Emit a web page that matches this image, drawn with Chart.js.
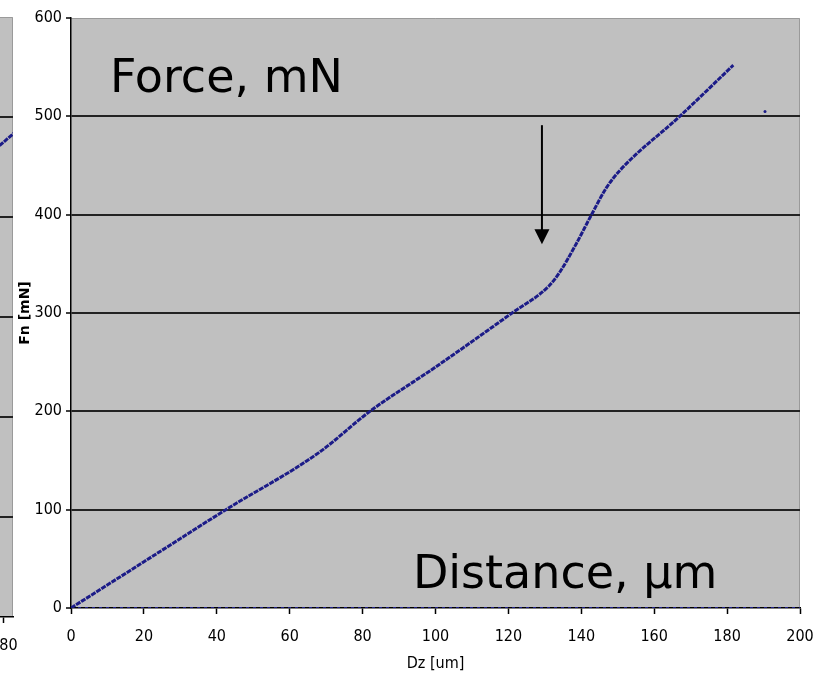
<!DOCTYPE html>
<html>
<head>
<meta charset="utf-8">
<script src="https://cdn.jsdelivr.net/npm/chart.js@4"></script>
<style>
  html, body { margin: 0; padding: 0; background: #fff; overflow: hidden; }
  #wrap { position: relative; width: 821px; height: 681px; }
  #leftChart { position: absolute; left: -600px; top: 0; }
  #mainChart { position: absolute; left: 0; top: 0; }
</style>
</head>
<body>
<div id="wrap">
  <canvas id="leftChart" width="640" height="681"></canvas>
  <canvas id="mainChart" width="821" height="681"></canvas>
</div>
<script>
// Force vs. distance curve
const dz = [0, 20, 42.5, 68, 82, 100, 121, 131, 134, 138.7, 142.8, 147, 150.6, 167, 181.7];
const fn = [0, 47, 100, 158, 200, 245, 300, 327, 341, 371, 400, 428, 445, 500, 552];

// dotted baseline along zero and the lone point at the right
const baseX = [0, 200];
const baseY = [0, 0];
const strayX = [190.4];
const strayY = [505];

// neighbouring chart, only its right edge shows
const leftX = [165, 175, 186];
const leftY = [436, 462, 491];

const yTicks = [0, 100, 200, 300, 400, 500, 600];
const xTicks = [0, 20, 40, 60, 80, 100, 120, 140, 160, 180, 200];

const navy = '#1c1c88';
const tickFont = { family: "'Liberation Sans Narrow', 'DejaVu Sans Condensed', Arial, sans-serif", size: 16 };

function pts(xs, ys) {
    return xs.map((x, i) => ({ x: x, y: ys[i] }));
}

// grey plot area
const plotBg = {
    id: 'plotBg',
    beforeDraw(chart) {
        const a = chart.chartArea;
        const ctx = chart.ctx;
        ctx.save();
        ctx.fillStyle = '#c0c0c0';
        ctx.fillRect(a.left, a.top, a.right - a.left, a.bottom - a.top);
        ctx.strokeStyle = '#9a9a9a';
        ctx.lineWidth = 1;
        ctx.beginPath();
        ctx.moveTo(a.left, a.top + 0.5);
        ctx.lineTo(a.right - 0.5, a.top + 0.5);
        ctx.lineTo(a.right - 0.5, a.bottom);
        ctx.stroke();
        ctx.restore();
    }
};

// big labels and the arrow
const notes = {
    id: 'notes',
    afterDatasetsDraw(chart) {
        const ctx = chart.ctx;
        const xs = chart.scales.x, ys = chart.scales.y;
        ctx.save();
        ctx.fillStyle = '#000';
        ctx.font = "46px 'DejaVu Sans', Verdana, sans-serif";
        ctx.textBaseline = 'alphabetic';
        ctx.textAlign = 'left';
        ctx.fillText('Force, mN', xs.getPixelForValue(10.7), ys.getPixelForValue(525));
        ctx.fillText('Distance, µm', xs.getPixelForValue(93.8), ys.getPixelForValue(20.5));

        const ax = xs.getPixelForValue(129.2);
        const top = ys.getPixelForValue(491);
        const tip = ys.getPixelForValue(370);
        ctx.strokeStyle = '#000';
        ctx.lineWidth = 2;
        ctx.beginPath();
        ctx.moveTo(ax, top);
        ctx.lineTo(ax, tip - 12);
        ctx.stroke();
        ctx.beginPath();
        ctx.moveTo(ax - 7.5, tip - 15);
        ctx.lineTo(ax + 7.5, tip - 15);
        ctx.lineTo(ax, tip);
        ctx.closePath();
        ctx.fill();
        ctx.restore();
    }
};

new Chart(document.getElementById('mainChart'), {
    type: 'scatter',
    data: {
        datasets: [
            {
                data: pts(baseX, baseY),
                showLine: true,
                borderColor: navy,
                borderWidth: 2,
                borderDash: [3, 4],
                pointRadius: 0
            },
            {
                data: pts(dz, fn),
                showLine: true,
                borderColor: navy,
                borderWidth: 3,
                borderDash: [5, 1],
                cubicInterpolationMode: 'monotone',
                pointRadius: 0
            },
            {
                data: pts(strayX, strayY),
                pointRadius: 1.5,
                pointBackgroundColor: navy,
                pointBorderWidth: 0
            }
        ]
    },
    options: {
        responsive: false,
        animation: false,
        layout: { padding: { top: 18, right: 21, left: 0, bottom: 0 } },
        plugins: { legend: { display: false }, tooltip: { enabled: false } },
        scales: {
            x: {
                type: 'linear',
                min: 0,
                max: 200,
                afterFit(s) { s.height = 73; s.paddingLeft = 0; s.paddingRight = 0; },
                afterBuildTicks(s) { s.ticks = xTicks.map(v => ({ value: v })); },
                ticks: { color: '#000', font: tickFont, padding: 13, maxRotation: 0 },
                grid: { drawOnChartArea: false, tickLength: 6, tickColor: '#000', tickWidth: 1.5 },
                border: { color: '#000', width: 1.5 },
                title: {
                    display: true,
                    text: 'Dz [um]',
                    color: '#000',
                    font: { family: tickFont.family, size: 16 },
                    padding: { top: 0, bottom: 8 }
                }
            },
            y: {
                type: 'linear',
                min: 0,
                max: 600,
                afterFit(s) { s.width = 71; s.paddingTop = 0; s.paddingBottom = 0; },
                afterBuildTicks(s) { s.ticks = yTicks.map(v => ({ value: v })); },
                ticks: { color: '#000', font: tickFont, padding: 4 },
                grid: {
                    color: c => (c.tick && (c.tick.value === 600 || c.tick.value === 0)) ? 'rgba(0,0,0,0)' : '#222',
                    lineWidth: 2,
                    tickLength: 5,
                    tickColor: '#000',
                    tickWidth: 1.5
                },
                border: { color: '#000', width: 1.5 },
                title: {
                    display: true,
                    text: 'Fn [mN]',
                    color: '#000',
                    font: { family: "'DejaVu Sans', Arial, sans-serif", size: 14, weight: 'bold' },
                    padding: { top: 17, bottom: 0 }
                }
            }
        }
    },
    plugins: [plotBg, notes]
});

new Chart(document.getElementById('leftChart'), {
    type: 'scatter',
    data: {
        datasets: [{
            data: pts(leftX, leftY),
            showLine: true,
            borderColor: navy,
            borderWidth: 3,
            borderDash: [5, 1],
            pointRadius: 0
        }]
    },
    options: {
        responsive: false,
        animation: false,
        layout: { padding: { top: 17, right: 27, left: 0, bottom: 0 } },
        plugins: { legend: { display: false }, tooltip: { enabled: false } },
        scales: {
            x: {
                type: 'linear',
                min: 0,
                max: 183,
                afterFit(s) { s.height = 64; s.paddingLeft = 0; s.paddingRight = 0; },
                afterBuildTicks(s) { s.ticks = xTicks.filter(v => v <= 180).map(v => ({ value: v })); },
                ticks: { color: '#000', font: tickFont, padding: 13, maxRotation: 0 },
                grid: { drawOnChartArea: false, tickLength: 6, tickColor: '#000', tickWidth: 1.5 },
                border: { color: '#000', width: 1.5 }
            },
            y: {
                type: 'linear',
                min: 0,
                max: 600,
                afterFit(s) { s.width = 60; s.paddingTop = 0; s.paddingBottom = 0; },
                afterBuildTicks(s) { s.ticks = yTicks.map(v => ({ value: v })); },
                ticks: { display: false },
                grid: {
                    color: c => (c.tick && (c.tick.value === 600 || c.tick.value === 0)) ? 'rgba(0,0,0,0)' : '#222',
                    lineWidth: 2,
                    drawTicks: false
                },
                border: { display: false }
            }
        }
    },
    plugins: [plotBg]
});
</script>
</body>
</html>
